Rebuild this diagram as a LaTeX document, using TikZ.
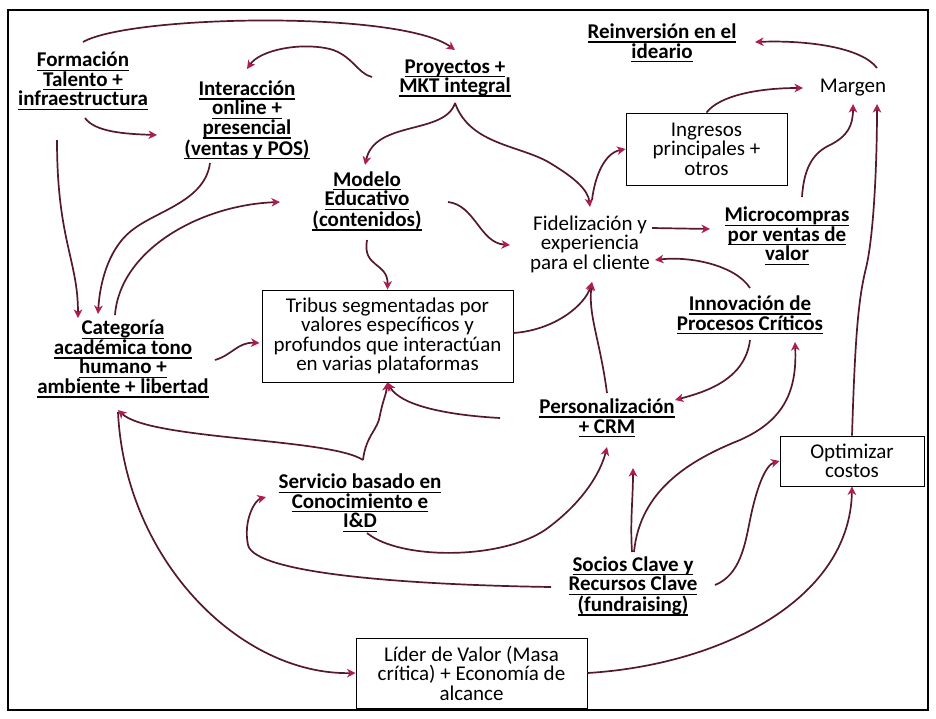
\documentclass[tikz,border=0pt]{standalone}
\usepackage{fontspec}
\setmainfont{Carlito}
\usetikzlibrary{arrows.meta,calc}
\definecolor{lnc}{RGB}{85,25,45}
\definecolor{arc}{RGB}{175,30,75}
\newsavebox{\ulbox}
\newcommand{\uline}[1]{\leavevmode\sbox{\ulbox}{#1}\rlap{\rule[-4.1pt]{\wd\ulbox}{1.2pt}}\usebox{\ulbox}}
\begin{document}
\begin{tikzpicture}[x=1pt,y=-1pt,
  conn/.style={draw=lnc, line width=1.7pt, -{Stealth[length=8.5pt,width=8.5pt,inset=2.5pt,color=arc]}},
  lbl/.style={align=center,font=\fontsize{21}{19.5}\selectfont\bfseries,inner sep=0pt},
  txt/.style={align=center,font=\fontsize{21}{19.5}\selectfont,inner sep=0pt},
  box/.style={txt,draw,line width=0.9pt}]
\useasboundingbox (0,0) rectangle (936,718);
\fill[white] (0,0) rectangle (936,718);
\draw[line width=1.5pt] (8,10) rectangle (928,710);

\node[lbl] (form) at (83,81) {\uline{Formación}\\\uline{Talento +}\\\uline{infraestructura}};
\node[lbl] (inter) at (247,120) {\uline{Interacción}\\\uline{online +}\\\uline{presencial}\\\uline{(ventas y POS)}};
\node[lbl] (proy) at (455,78) {\uline{Proyectos +}\\\uline{MKT integral}};
\node[lbl] (reinv) at (662,43) {\uline{Reinversión en el}\\\uline{ideario}};
\node[txt] (margen) at (853,88) {Margen};
\node[box,minimum width=161,minimum height=72] (ingr) at (706.5,149) {Ingresos\\principales +\\otros};
\node[lbl] (modelo) at (367,201) {\uline{Modelo}\\\uline{Educativo}\\\uline{(contenidos)}};
\node[txt] (fidel) at (590,244) {Fidelización y\\experiencia\\para el cliente};
\node[lbl] (micro) at (787,236) {\uline{Microcompras}\\\uline{por ventas de}\\\uline{valor}};
\node[box,minimum width=251,minimum height=92] (tribus) at (387.5,336) {Tribus segmentadas por\\valores específicos y\\profundos que interactúan\\en varias plataformas};
\node[lbl] (categ) at (123,359) {\uline{Categoría}\\\uline{académica tono}\\\uline{humano +}\\\uline{ambiente + libertad}};
\node[lbl] (innov) at (750,315) {\uline{Innovación de}\\\uline{Procesos Críticos}};
\node[lbl] (perso) at (607,418) {\uline{Personalización}\\\uline{+ CRM}};
\node[box,minimum width=144,minimum height=50] (optim) at (852,461) {Optimizar\\costos};
\node[lbl] (serv) at (360,503) {\uline{Servicio basado en}\\\uline{Conocimiento e}\\\uline{I\&D}};
\node[lbl] (socios) at (633,586) {\uline{Socios Clave y}\\\uline{Recursos Clave}\\\uline{(fundraising)}};
\node[box,minimum width=231,minimum height=70] (lider) at (471.5,673) {Líder de Valor (Masa\\crítica) + Economía de\\alcance};

\draw[conn] ($(form)+(0,-39)$) .. controls (130,15) and (400,10) .. ($(proy)+(0,-28)$);
\draw[conn] ($(proy)+(-83,-1)$) .. controls (358,74) and (352,55) .. (330,49) .. controls (300,42) and (260,50) .. ($(inter)+(0,-51)$);
\draw[conn] ($(form)+(2,37)$) .. controls (95,132) and (125,134) .. ($(inter)+(-90,15)$);
\draw[conn] ($(form)+(-26,59)$) .. controls (57,240) and (78,260) .. ($(categ)+(-45,-41)$);
\draw[conn] ($(inter)+(-37,43)$) .. controls (205,200) and (160,210) .. (135,228) .. controls (110,245) and (100,280) .. ($(categ)+(-25,-45)$);
\draw[conn] ($(categ)+(-8,-44)$) .. controls (120,250) and (200,205) .. ($(modelo)+(-87,1)$);
\draw[conn] ($(proy)+(0,25)$) .. controls (445,135) and (375,120) .. ($(modelo)+(-2,-36)$);
\draw[conn] ($(proy)+(0,25)$) .. controls (470,145) and (520,145) .. (550,163) .. controls (575,178) and (588,190) .. ($(fidel)+(0,-37)$);
\draw[conn] ($(fidel)+(2,-44)$) .. controls (595,175) and (605,153) .. (ingr.west);
\draw[conn] (ingr.north) .. controls (720,95) and (760,88) .. ($(margen)+(-50,0)$);
\draw[conn] ($(margen)+(24,-20)$) .. controls (862,48) and (810,40) .. ($(reinv)+(93,-1)$);
\draw[conn] ($(micro)+(15,-39)$) .. controls (804,165) and (815,152) .. (830,145) .. controls (848,136) and (853,125) .. ($(margen)+(0,16)$);
\draw[conn] (optim.north) .. controls (855,340) and (858,300) .. (866,268) .. controls (874,235) and (877,160) .. ($(margen)+(24,16)$);
\draw[conn] ($(fidel)+(62,-16)$) -- ($(micro)+(-77,-7)$);
\draw[conn] ($(innov)+(0,-27)$) .. controls (735,265) and (690,256) .. ($(fidel)+(65,16)$);
\draw[conn] ($(modelo)+(81,1)$) .. controls (475,205) and (480,243) .. ($(fidel)+(-80,1)$);
\draw[conn] ($(modelo)+(0,39)$) .. controls (362,268) and (388,262) .. (tribus.north);
\draw[conn] ($(categ)+(92,1)$) .. controls (232,355) and (238,342) .. ($(tribus.west)+(-2,7)$);
\draw[conn] ($(tribus.east)+(0,-3)$) .. controls (555,330) and (585,305) .. ($(fidel)+(2,38)$);
\draw[conn] ($(perso)+(0,-25)$) .. controls (600,340) and (588,315) .. ($(fidel)+(2,38)$);
\draw[conn] ($(innov)+(0,25)$) .. controls (745,380) and (705,392) .. ($(perso)+(68,-18)$);
\draw[conn] ($(serv)+(3,-43)$) .. controls (366,435) and (378,430) .. (380,415) .. controls (383,400) and (386,395) .. (tribus.south);
\draw[conn] ($(perso)+(-107,0)$) .. controls (445,415) and (400,405) .. (tribus.south);
\draw[conn] ($(serv)+(3,-43)$) .. controls (330,438) and (150,440) .. ($(categ)+(-5,51)$);
\draw[conn] ($(categ)+(-5,53)$) .. controls (125,560) and (240,675) .. (lider.west);
\draw[conn] ($(serv)+(7,30)$) .. controls (400,560) and (500,560) .. (545,530) .. controls (580,505) and (600,475) .. ($(perso)+(0,29)$);
\draw[conn] ($(socios)+(-82,1)$) .. controls (420,585) and (255,575) .. (248,545) .. controls (243,520) and (255,500) .. ($(serv)+(-94,-6)$);
\draw[conn] ($(socios)+(-1,-34)$) .. controls (630,520) and (633,500) .. ($(perso)+(26,50)$);
\draw[conn] ($(socios)+(1,-34)$) .. controls (640,490) and (690,460) .. (740,440) .. controls (785,420) and (797,390) .. ($(innov)+(45,27)$);
\draw[conn] ($(socios)+(82,-1)$) .. controls (740,575) and (745,545) .. (750,520) .. controls (756,490) and (765,465) .. (optim.west);
\draw[conn] (lider.east) .. controls (720,665) and (850,600) .. (optim.south);
\end{tikzpicture}
\end{document}
